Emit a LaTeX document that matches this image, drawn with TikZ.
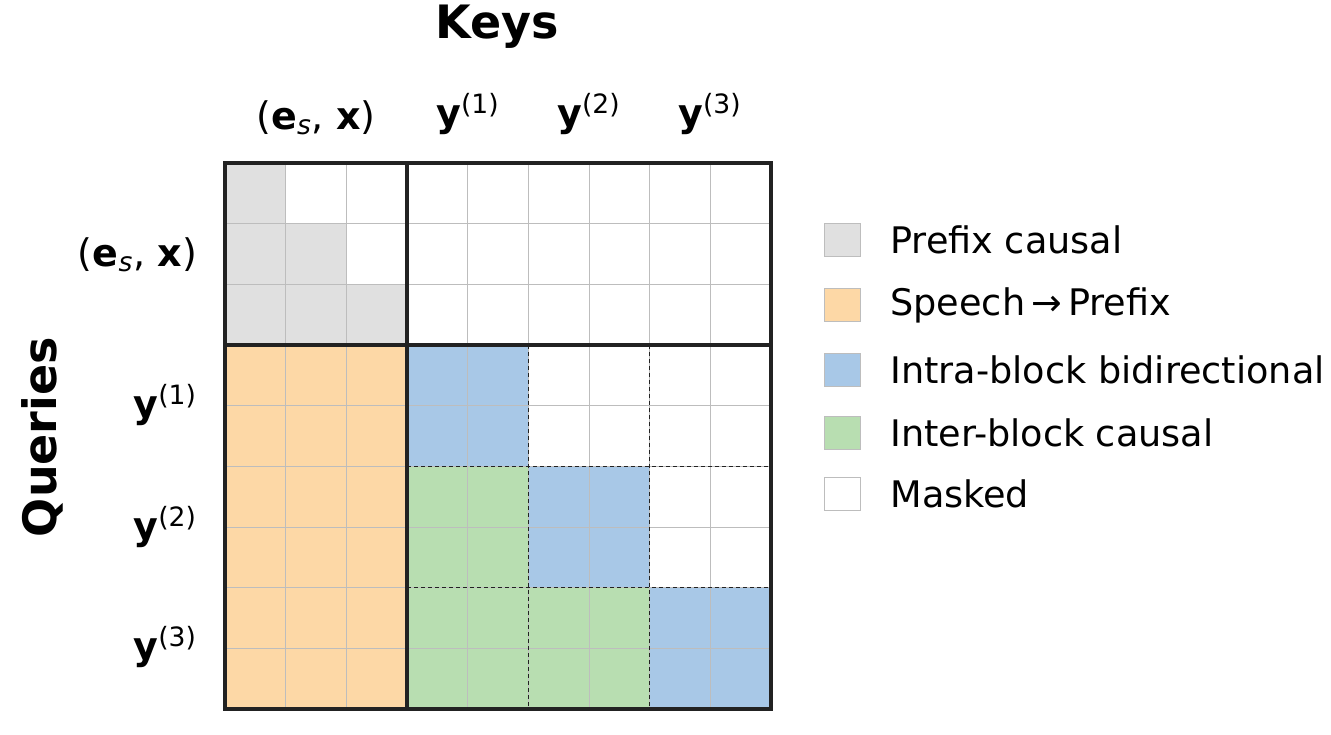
\documentclass[tikz,border=0pt]{standalone}
\usepackage{fontspec}
\setmainfont{DejaVu Sans}
\definecolor{prefixgray}{HTML}{E0E0E0}
\definecolor{speechorange}{HTML}{FDD8A6}
\definecolor{intrablue}{HTML}{A8C8E7}
\definecolor{intergreen}{HTML}{B8DEB1}
\definecolor{gridgray}{HTML}{BDBDBD}
\definecolor{framedark}{HTML}{222222}
\tikzset{
  cell/.style={draw=gridgray, line width=0.5pt},
  frame/.style={draw=framedark, line width=1.6pt},
  blockline/.style={draw=framedark, line width=0.5pt, dash pattern=on 2pt off 1.5pt},
  legbox/.style={draw=gridgray, line width=0.6pt, minimum width=18pt, minimum height=16.5pt, inner sep=0pt},
  legtext/.style={anchor=west, font=\fontsize{18.3}{21}\selectfont, inner sep=0pt},
  axislabel/.style={font=\fontsize{23}{27}\selectfont\bfseries},
  ticklabel/.style={font=\fontsize{19}{22}\selectfont},
}
\newcommand{\ylab}[1]{\textbf{y}\textsuperscript{(1#1)}}
\renewcommand{\ylab}[1]{\textbf{y}\textsuperscript{(#1)}}
\newcommand{\exlab}{(\textbf{e}\textsubscript{\textit{s}}, \textbf{x})}
\begin{document}
\begin{tikzpicture}[x=0.5pt,y=-0.5pt]
  \useasboundingbox (0,0) rectangle (1331,734);
  \def\cs{60.667}
  % fill one cell: column #1, row #2, colour #3
  \newcommand{\fillcell}[3]{\fill[#3] ({225+(#1)*\cs},{163+(#2)*\cs}) rectangle ++(\cs,\cs);}

  % prefix causal
  \foreach \r in {0,1,2}{\foreach \c in {0,...,\r}{\fillcell{\c}{\r}{prefixgray}}}
  % speech -> prefix
  \foreach \r in {3,...,8}{\foreach \c in {0,1,2}{\fillcell{\c}{\r}{speechorange}}}
  % intra-block
  \foreach \b in {0,1,2}{\foreach \i in {0,1}{\foreach \j in {0,1}{
    \fillcell{3+2*\b+\j}{3+2*\b+\i}{intrablue}}}}
  % inter-block
  \foreach \c/\r in {3/5,4/5,3/6,4/6,3/7,4/7,5/7,6/7,3/8,4/8,5/8,6/8}{\fillcell{\c}{\r}{intergreen}}

  % grid
  \foreach \k in {1,...,8}{
    \draw[cell] (225+\k*\cs,163) -- (225+\k*\cs,709);
    \draw[cell] (225,163+\k*\cs) -- (771,163+\k*\cs);
  }
  % block borders
  \foreach \k in {5,7}{
    \draw[blockline] (225+\k*\cs,345) -- (225+\k*\cs,709);
    \draw[blockline] (407,163+\k*\cs) -- (771,163+\k*\cs);
  }
  \draw[frame] (407,163) -- (407,709);
  \draw[frame] (225,345) -- (771,345);
  \draw[frame] (225,163) rectangle (771,709);

  % axis labels
  \node[axislabel] (keys) at (497,27) {Keys};
  \node[axislabel, rotate=90] (queries) at (42,437) {Queries};
  \node[ticklabel] (kex) at (316,118) {\exlab};
  \node[ticklabel] (ky1) at (468,114) {\ylab{1}};
  \node[ticklabel] (ky2) at (589,114) {\ylab{2}};
  \node[ticklabel] (ky3) at (710,114) {\ylab{3}};
  \node[ticklabel, anchor=east] (qex) at (204,255) {\exlab};
  \node[ticklabel, anchor=east] (qy1) at (204,405) {\ylab{1}};
  \node[ticklabel, anchor=east] (qy2) at (204,527) {\ylab{2}};
  \node[ticklabel, anchor=east] (qy3) at (204,647) {\ylab{3}};

  % legend
  \foreach \y/\col/\txt [count=\n] in {240/prefixgray/Prefix causal,
      305/speechorange/Speech\,→\,Prefix,
      370/intrablue/Intra-block bidirectional,
      433/intergreen/Inter-block causal,
      494/white/Masked}{
    \node[legbox, fill=\col] (box\n) at (842.5,\y) {};
    \node[legtext] (leg\n) at (890,\y) {\txt};
  }
\end{tikzpicture}
\end{document}
